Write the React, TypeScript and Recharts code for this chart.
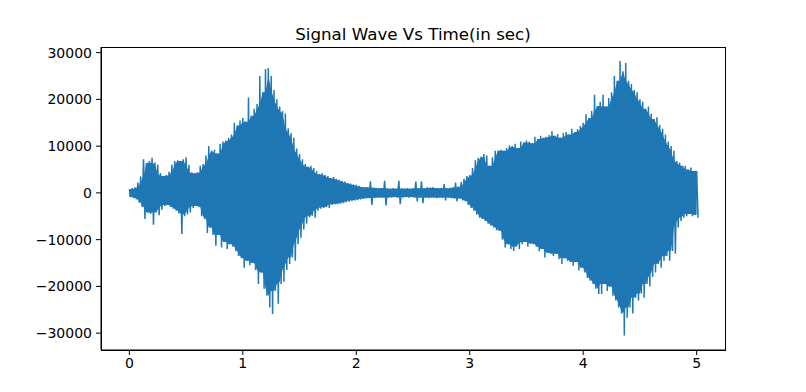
import React from 'react';
import { ComposedChart, Line, Area, XAxis, YAxis } from 'recharts';

// envelope of the recording, read every 0.025 s (upper / lower peak)
const SAMPLE_STEP = 0.025;

const upperPeaks = [
  800, 1000, 1200, 2200, 3500, 7200, 6400, 6800, 7500, 6500,
  6000, 4200, 3600, 3800, 4500, 6000, 6800, 7000, 6800, 7200,
  7600, 6000, 4400, 4200, 4400, 5800, 6200, 8000, 10000, 9000,
  9200, 8400, 10500, 11000, 11200, 11800, 12500, 15000, 14400, 15500,
  16000, 15200, 20400, 16500, 18000, 19000, 25000, 21500, 26500, 26700,
  25000, 22000, 20000, 18500, 17500, 17000, 13800, 12800, 11800, 9500,
  8300, 7200, 6200, 5600, 5800, 5300, 4600, 4000, 4200, 3800,
  3600, 3200, 3400, 3000, 2800, 2600, 2400, 2100, 2000, 1800,
  1700, 1500, 1300, 1200, 1200, 2500, 1100, 1100, 1000, 1000,
  2600, 1000, 900, 1000, 900, 2600, 1000, 900, 1000, 900,
  1000, 2400, 1000, 2500, 1000, 1200, 1100, 1200, 1100, 1000,
  1100, 1900, 1000, 1100, 1200, 2200, 1300, 2300, 3000, 3600,
  3800, 5300, 7000, 7500, 7800, 8300, 8000, 5800, 7600, 9000,
  9000, 9200, 9000, 9600, 10200, 10000, 10500, 9600, 11000, 10800,
  11200, 11000, 10600, 12000, 11500, 12200, 11800, 12000, 12400, 13200,
  12200, 12600, 11800, 12800, 13000, 12500, 13700, 13000, 13600, 14300,
  15000, 16800, 16000, 17500, 21000, 18600, 19500, 21000, 18500, 20300,
  21500, 25000, 24000, 28200, 26000, 27800, 24000, 23300, 22000, 21500,
  20000, 19500, 18000, 18500, 17000, 15800, 16200, 14500, 13700, 12500,
  11000, 10000, 9000, 6800, 6500, 5800, 5800, 5000, 5400, 4700,
  4700,
];

const lowerPeaks = [
  -900, -1100, -1400, -2100, -3000, -5600, -4200, -4500, -6800, -4200,
  -4800, -3600, -2800, -2600, -3000, -3400, -3800, -4400, -8800, -5000,
  -4600, -4200, -3200, -2800, -3000, -5000, -5600, -8600, -7400, -9000,
  -11300, -9000, -11700, -10500, -12000, -11000, -11500, -12500, -13500, -14000,
  -16000, -14500, -15500, -15000, -16500, -19500, -17000, -20500, -22000, -24500,
  -25900, -21000, -23700, -19500, -19000, -16500, -15200, -13800, -14500, -11000,
  -9600, -7800, -6600, -5200, -4900, -5300, -3800, -3400, -3200, -3000,
  -3200, -2600, -2400, -2400, -2300, -2200, -2000, -1900, -1700, -1600,
  -1500, -1400, -1300, -1200, -1100, -2600, -1100, -1000, -1000, -1000,
  -2700, -1000, -1000, -900, -1000, -2400, -1000, -900, -1000, -900,
  -1000, -1800, -1000, -2200, -1000, -1100, -1000, -1000, -1100, -1000,
  -1000, -1600, -1000, -1100, -1200, -1800, -1200, -1600, -1800, -2600,
  -3200, -3800, -4600, -5300, -5600, -6000, -6600, -7000, -7400, -8000,
  -8100, -10000, -11700, -11000, -12000, -12400, -11500, -12000, -11000, -10500,
  -11500, -10800, -11000, -11500, -12500, -12000, -13800, -12800, -13000, -13500,
  -13000, -14200, -15200, -14000, -14500, -14800, -15600, -14800, -16600, -16000,
  -17000, -18200, -18800, -19500, -20500, -21600, -21600, -19500, -21000, -20000,
  -22000, -23000, -24500, -25800, -30500, -26700, -24500, -25800, -22400, -23000,
  -21500, -22400, -19500, -20000, -18000, -17000, -15200, -16000, -14500, -13500,
  -14500, -12400, -13000, -7400, -6000, -5300, -5000, -4500, -5000, -4700,
  -5300,
];

const timeTicks = [0, 1, 2, 3, 4, 5];
const ampTicks = [-30000, -20000, -10000, 0, 10000, 20000, 30000];

// zig-zag between the peaks so the line looks like a dense waveform
const waveData = upperPeaks.flatMap((hi, i) => [
  { t: i * SAMPLE_STEP, amp: hi },
  { t: i * SAMPLE_STEP + SAMPLE_STEP / 2, amp: lowerPeaks[i] },
]);
// solid core between neighbouring peaks, so single spikes still stick out
const bandData = upperPeaks.map((hi, i) => {
  const hs = [upperPeaks[i - 1] ?? hi, hi, upperPeaks[i + 1] ?? hi];
  const ls = [lowerPeaks[i - 1] ?? lowerPeaks[i], lowerPeaks[i], lowerPeaks[i + 1] ?? lowerPeaks[i]];
  return { t: i * SAMPLE_STEP, band: [Math.max(...ls), Math.min(...hs)] };
});

const BLUE = '#1f77b4';
const font = '"DejaVu Sans", sans-serif';
const tickStyle = { fill: '#000', fontSize: 14, fontFamily: font };
const fmt = (v: number) => String(v).replace('-', '\u2212');

export default function App() {
  return (
    <div style={{ position: 'absolute', left: 0, top: 0, width: 806, height: 392, background: '#fff' }}>
      <svg width={806} height={50} style={{ position: 'absolute', left: 0, top: 0 }}>
        <text x={413} y={40} textAnchor="middle" fontFamily={font} fontSize={16.7} fill="#000">
          Signal Wave Vs Time(in sec)
        </text>
      </svg>
      <ComposedChart
        width={806}
        height={392}
        margin={{ top: 47, right: 81, bottom: 0, left: 0 }}
        style={{ position: 'absolute', left: 0, top: 0 }}
      >
        <XAxis
          dataKey="t"
          type="number"
          domain={[-0.25, 5.25]}
          ticks={timeTicks}
          allowDataOverflow
          height={42}
          tickSize={5}
          tickMargin={3}
          tick={tickStyle}
          stroke="#000"
        />
        <YAxis
          type="number"
          domain={[-33600, 31200]}
          ticks={ampTicks}
          allowDataOverflow
          width={101}
          tickSize={5}
          tickMargin={4}
          tick={tickStyle}
          tickFormatter={fmt}
          stroke="#000"
        />
        <Area
          data={bandData}
          type="linear"
          dataKey="band"
          stroke="none"
          fill={BLUE}
          fillOpacity={1}
          isAnimationActive={false}
        />
        <Line
          data={waveData}
          type="linear"
          dataKey="amp"
          stroke={BLUE}
          strokeWidth={1.5}
          dot={false}
          isAnimationActive={false}
        />
      </ComposedChart>
      <div
        style={{
          position: 'absolute',
          left: 101,
          top: 47,
          width: 625,
          height: 304,
          boxSizing: 'border-box',
          border: '1px solid #000',
          pointerEvents: 'none',
        }}
      />
    </div>
  );
}
